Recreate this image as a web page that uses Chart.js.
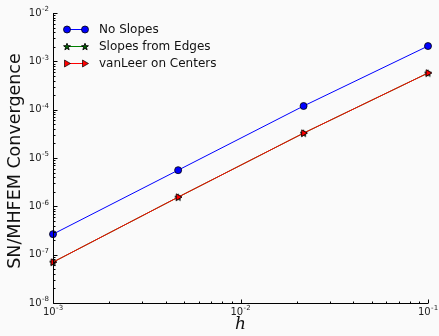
<!DOCTYPE html>
<html>
<head>
<meta charset="utf-8">
<script src="https://cdn.jsdelivr.net/npm/chart.js@4.4.1/dist/chart.umd.min.js"></script>
<style>
html,body{margin:0;padding:0;background:#fafafa;}
canvas{display:block;}
</style>
</head>
<body>
<canvas id="c" width="439" height="336"></canvas>
<script>
// ---- data ----
const hValues      = [1e-3, 4.65e-3, 2.17e-2, 1e-1];
const noSlopes     = [2.66e-7, 5.6e-6, 1.19e-4, 2.07e-3];
const slopesEdges  = [7.0e-8, 1.55e-6, 3.27e-5, 5.73e-4];
const vanLeer      = [7.0e-8, 1.55e-6, 3.27e-5, 5.73e-4];
const seriesNames  = ['No Slopes', 'Slopes from Edges', 'vanLeer on Centers'];
const xTickExps    = [-3, -2, -1];
const yTickExps    = [-8, -7, -6, -5, -4, -3, -2];
const xTitle = 'h';
const yTitle = 'SN/MHFEM Convergence';

function pts(ys){ return hValues.map((x,i)=>({x:x, y:ys[i]})); }

// star marker image
function starImage(){
  const s = 9, c = document.createElement('canvas');
  c.width = s; c.height = s;
  const g = c.getContext('2d');
  drawStar(g, s/2, s/2+0.4, 3.6, 1.5);
  return c;
}
function drawStar(g, cx, cy, ro, ri){
  g.beginPath();
  for (let i=0;i<10;i++){
    const r = i%2===0 ? ro : ri;
    const a = -Math.PI/2 + i*Math.PI/5;
    const px = cx + r*Math.cos(a), py = cy + r*Math.sin(a);
    if(i===0) g.moveTo(px,py); else g.lineTo(px,py);
  }
  g.closePath();
  g.fillStyle = '#006000'; g.fill();
  g.lineWidth = 0.9; g.strokeStyle = '#000'; g.stroke();
}
const STAR = starImage();

const fontSans = '"DejaVu Sans", "Bitstream Vera Sans", sans-serif';

function drawPow(ctx, exp, x, y, align){
  const base = '10', sup = String(exp);
  ctx.font = '10px ' + fontSans;
  const wb = ctx.measureText(base).width;
  ctx.font = '7px ' + fontSans;
  const ws = ctx.measureText(sup).width;
  const total = wb + ws + 0.5;
  let x0;
  if (align === 'right') x0 = x - total;
  else x0 = x - total/2;
  ctx.fillStyle = '#222';
  ctx.textBaseline = 'middle';
  ctx.textAlign = 'left';
  ctx.font = '10px ' + fontSans;
  ctx.fillText(base, x0, y);
  ctx.font = '7px ' + fontSans;
  ctx.fillText(sup, x0 + wb + 0.5, y - 3.5);
}

const axesPlugin = {
  id: 'mplAxes',
  beforeDraw(chart){
    const ctx = chart.ctx;
    ctx.save();
    ctx.fillStyle = '#fafafa';
    ctx.fillRect(0,0,chart.width,chart.height);
    ctx.restore();
  },
  afterDraw(chart){
    const ctx = chart.ctx, xs = chart.scales.x, ys = chart.scales.y;
    const a = chart.chartArea;
    ctx.save();
    // axis lines
    ctx.strokeStyle = '#000'; ctx.lineWidth = 1;
    ctx.beginPath();
    const L = Math.round(a.left)+0.5, B = Math.round(a.bottom)+0.5;
    ctx.moveTo(L, a.top); ctx.lineTo(L, B); ctx.lineTo(a.right, B);
    ctx.stroke();
    // ticks (inward)
    ctx.beginPath();
    for (let e = xTickExps[0]; e <= xTickExps[xTickExps.length-1]; e++){
      for (let k=1;k<10;k++){
        const v = k*Math.pow(10,e);
        if (v > xs.max*1.0001) break;
        const px = Math.round(xs.getPixelForValue(v))+0.5;
        const len = k===1 ? 4 : 2;
        ctx.moveTo(px, B); ctx.lineTo(px, B-len);
      }
    }
    for (let e = yTickExps[0]; e <= yTickExps[yTickExps.length-1]; e++){
      for (let k=1;k<10;k++){
        const v = k*Math.pow(10,e);
        if (v > ys.max*1.0001) break;
        const py = Math.round(ys.getPixelForValue(v))+0.5;
        const len = k===1 ? 4 : 2;
        ctx.moveTo(L, py); ctx.lineTo(L+len, py);
      }
    }
    ctx.stroke();
    // tick labels
    xTickExps.forEach(e=>{
      drawPow(ctx, e, xs.getPixelForValue(Math.pow(10,e)), a.bottom + 9, 'center');
    });
    yTickExps.forEach(e=>{
      drawPow(ctx, e, a.left - 4, ys.getPixelForValue(Math.pow(10,e)), 'right');
    });
    // axis titles
    ctx.fillStyle = '#111';
    ctx.textAlign = 'center'; ctx.textBaseline = 'middle';
    ctx.font = 'italic 17px "DejaVu Serif", "Liberation Serif", serif';
    ctx.fillText(xTitle, (a.left+a.right)/2, 325);
    ctx.save();
    ctx.translate(15, (a.top+a.bottom)/2 + 3);
    ctx.rotate(-Math.PI/2);
    ctx.font = '17.5px ' + fontSans;
    ctx.fillText(yTitle, 0, 0);
    ctx.restore();
    // legend
    const rows = [29, 46, 63];
    const x1 = 67, x2 = 85, tx = 99;
    chart.data.datasets.forEach((ds, i)=>{
      const y = rows[i];
      ctx.strokeStyle = ds.borderColor; ctx.lineWidth = 1;
      ctx.beginPath(); ctx.moveTo(x1, y+0.5); ctx.lineTo(x2, y+0.5); ctx.stroke();
      [x1, x2].forEach(mx=>{
        if (i===0){
          ctx.beginPath(); ctx.arc(mx, y+0.5, 3.5, 0, Math.PI*2);
          ctx.fillStyle = ds.pointBackgroundColor; ctx.fill();
          ctx.lineWidth = 0.8; ctx.strokeStyle = '#000'; ctx.stroke();
        } else if (i===1){
          drawStar(ctx, mx, y+0.9, 3.6, 1.5);
        } else {
          ctx.beginPath();
          ctx.moveTo(mx+3.5, y+0.5); ctx.lineTo(mx-2.5, y-3); ctx.lineTo(mx-2.5, y+4);
          ctx.closePath();
          ctx.fillStyle = ds.pointBackgroundColor; ctx.fill();
          ctx.lineWidth = 0.7; ctx.strokeStyle = '#000'; ctx.stroke();
        }
      });
      ctx.fillStyle = '#111';
      ctx.font = '12px ' + fontSans;
      ctx.textAlign = 'left'; ctx.textBaseline = 'middle';
      ctx.fillText(ds.label, tx, y + 1);
    });
    ctx.restore();
  }
};

new Chart(document.getElementById('c'), {
  type: 'line',
  data: {
    datasets: [
      { label: seriesNames[0], data: pts(noSlopes), borderColor: '#0000ff', borderWidth: 1, order: 2,
        pointStyle: 'circle', pointRadius: 3.5, pointBackgroundColor: '#0000ff',
        pointBorderColor: '#000', pointBorderWidth: 0.8, clip: false, tension: 0 },
      { label: seriesNames[1], data: pts(slopesEdges), borderColor: '#008000', borderWidth: 1, order: 1,
        pointStyle: STAR, pointRadius: 4, pointBackgroundColor: '#008000',
        pointBorderColor: '#000', clip: false, tension: 0 },
      { label: seriesNames[2], data: pts(vanLeer), borderColor: '#ff0000', borderWidth: 1, order: 0,
        pointStyle: 'triangle', pointRotation: 90, pointRadius: 3.8, pointBackgroundColor: '#ff0000',
        pointBorderColor: '#000', pointBorderWidth: 0.8, clip: false, tension: 0 }
    ]
  },
  options: {
    responsive: false,
    animation: false,
    devicePixelRatio: 1,
    layout: { padding: { top: 13, right: 11, left: 0, bottom: 0 } },
    plugins: { legend: { display: false }, tooltip: { enabled: false } },
    scales: {
      x: { type: 'logarithmic', min: 1e-3, max: 1e-1,
           grid: { display: false }, border: { display: false },
           ticks: { display: false },
           afterFit: s => { s.height = 33; } },
      y: { type: 'logarithmic', min: 1e-8, max: 1e-2,
           grid: { display: false }, border: { display: false },
           ticks: { display: false },
           afterFit: s => { s.width = 53; } }
    }
  },
  plugins: [axesPlugin]
});
</script>
</body>
</html>
